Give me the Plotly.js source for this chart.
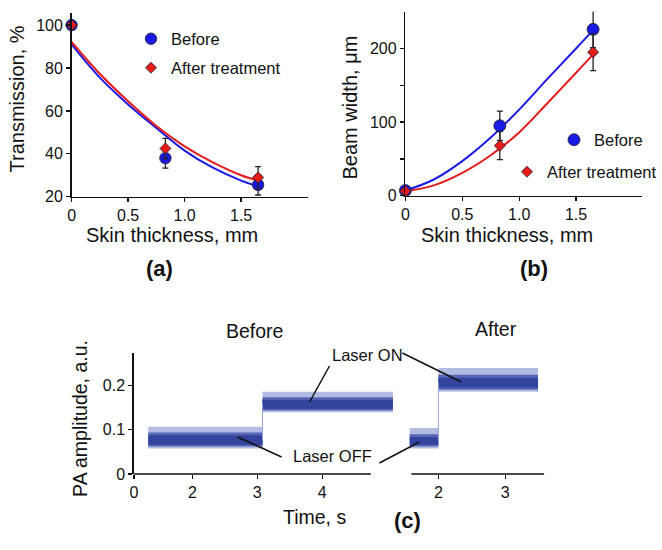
<!DOCTYPE html>
<html>
<head>
<meta charset="utf-8">
<script src="https://cdn.plot.ly/plotly-3.0.1.min.js"></script>
<style>html,body{margin:0;padding:0;background:#fff;}#chart{width:662px;height:550px;}</style>
</head>
<body>
<div id="chart"></div>
<script>
// ---------- Panel (a): transmission ----------
const thickness = [0, 0.83, 1.65];
const transBefore = [100, 38, 25.5];
const transBeforeErr = [0, 4.7, 4.7];
const transAfter = [100, 42.5, 29];
const transAfterErr = [0, 4.7, 5];
const fitX = [0, 0.25, 0.5, 0.75, 1.0, 1.25, 1.5, 1.65];
const transFitBefore = [91, 75.5, 63, 52, 41.5, 33.5, 27.5, 24.8];
const transFitAfter = [92.2, 77.3, 64.5, 53, 43.5, 36, 30, 27.5];

// ---------- Panel (b): beam width ----------
const beamBefore = [7, 95, 226];
const beamBeforeErr = [0, 20, 25];
const beamAfter = [6, 68, 195];
const beamAfterErr = [0, 19, 25];
const beamFitBefore = [7, 22, 47, 79, 117, 159, 200, 225];
const beamFitAfter = [6, 14, 31, 55, 86, 126, 167, 192];

// ---------- Panel (c): PA signal (start, laser switch, end) ----------
const paBeforeTime = [1.32, 3.08, 5.09];
const paBeforeOffCore = [0.066, 0.088];
const paBeforeOffBand = [0.062, 0.094];
const paBeforeOffSpike = [0.058, 0.107];
const paBeforeOnCore = [0.148, 0.168];
const paBeforeOnBand = [0.144, 0.174];
const paBeforeOnSpike = [0.140, 0.186];
const paAfterTime = [1.57, 2.0, 3.49];
const paAfterOffCore = [0.066, 0.084];
const paAfterOffBand = [0.062, 0.090];
const paAfterOffSpike = [0.058, 0.104];
const paAfterOnCore = [0.196, 0.218];
const paAfterOnBand = [0.191, 0.225];
const paAfterOnSpike = [0.186, 0.240];

const tickA_x = [0, 0.5, 1.0, 1.5];
const tickA_xText = ['0', '0.5', '1.0', '1.5'];
const tickA_y = [20, 40, 60, 80, 100];
const tickB_y = [0, 50, 100, 150, 200];
const tickB_yText = ['0', '', '100', '', '200'];
const tickC_x = [1.1, 2, 3, 4];
const tickC_xText = ['0', '2', '3', '4'];
const tickC2_x = [2, 3];
const tickC_y = [0, 0.1, 0.2];
const tickC_yText = ['0', '0.1', '0.2'];

const FONT = '"Liberation Sans", Arial, sans-serif';
const BLUE = '#1a1ae6';
const RED = '#e61a1a';
const CORE = '#33449e';
const MIDB = '#5766b4';
const SPIKE = '#b3bbe2';

const W = 662, H = 550;
const px = x => x / W;
const py = y => 1 - y / H;

function band(t0, t1, lohi, color, xa, ya) {
  return {
    x: [t0, t1, t1, t0, t0], y: [lohi[0], lohi[0], lohi[1], lohi[1], lohi[0]],
    xaxis: xa, yaxis: ya, mode: 'lines', fill: 'toself', fillcolor: color,
    line: {width: 0, color: color}, hoverinfo: 'skip', showlegend: false
  };
}
function mid(a) { return (a[0] + a[1]) / 2; }
function level(t0, t1, spike, bandv, core, xa, ya) {
  return [band(t0, t1, spike, SPIKE, xa, ya), band(t0, t1, bandv, MIDB, xa, ya), band(t0, t1, core, CORE, xa, ya)];
}

const errStyle = (arr) => ({type: 'data', array: arr, visible: true, color: '#222', thickness: 1.3, width: 3});

const traces = [
  // (a) fits
  {x: fitX, y: transFitBefore, xaxis: 'x', yaxis: 'y', mode: 'lines', line: {color: BLUE, width: 2, shape: 'spline'}, showlegend: false},
  {x: fitX, y: transFitAfter, xaxis: 'x', yaxis: 'y', mode: 'lines', line: {color: RED, width: 2, shape: 'spline'}, showlegend: false},
  // (a) data
  {x: thickness, y: transBefore, error_y: errStyle(transBeforeErr), xaxis: 'x', yaxis: 'y', mode: 'markers', name: 'Before',
   marker: {symbol: 'circle', size: 11.5, color: BLUE, line: {color: '#222', width: 0.8}}, cliponaxis: false, legend: 'legend'},
  {x: thickness, y: transAfter, error_y: errStyle(transAfterErr), xaxis: 'x', yaxis: 'y', mode: 'markers', name: 'After treatment',
   marker: {symbol: 'diamond', size: 8.5, color: RED, line: {color: '#222', width: 0.8}}, cliponaxis: false, legend: 'legend2'},
  // (b) fits
  {x: fitX, y: beamFitBefore, xaxis: 'x2', yaxis: 'y2', mode: 'lines', line: {color: BLUE, width: 2, shape: 'spline'}, showlegend: false},
  {x: fitX, y: beamFitAfter, xaxis: 'x2', yaxis: 'y2', mode: 'lines', line: {color: RED, width: 2, shape: 'spline'}, showlegend: false},
  // (b) data
  {x: thickness, y: beamBefore, error_y: errStyle(beamBeforeErr), xaxis: 'x2', yaxis: 'y2', mode: 'markers', name: 'Before',
   marker: {symbol: 'circle', size: 12, color: BLUE, line: {color: '#222', width: 0.8}}, cliponaxis: false, legend: 'legend3'},
  {x: thickness, y: beamAfter, error_y: errStyle(beamAfterErr), xaxis: 'x2', yaxis: 'y2', mode: 'markers', name: 'After treatment',
   marker: {symbol: 'diamond', size: 8.5, color: RED, line: {color: '#222', width: 0.8}}, cliponaxis: false, legend: 'legend4'},
  // (c) before
  ...level(paBeforeTime[0], paBeforeTime[1], paBeforeOffSpike, paBeforeOffBand, paBeforeOffCore, 'x3', 'y3'),
  ...level(paBeforeTime[1], paBeforeTime[2], paBeforeOnSpike, paBeforeOnBand, paBeforeOnCore, 'x3', 'y3'),
  {x: [paBeforeTime[1], paBeforeTime[1]], y: [mid(paBeforeOffBand), mid(paBeforeOnBand)], xaxis: 'x3', yaxis: 'y3', mode: 'lines',
   line: {color: '#9aa3dc', width: 1}, showlegend: false, hoverinfo: 'skip'},
  // (c) after
  ...level(paAfterTime[0], paAfterTime[1], paAfterOffSpike, paAfterOffBand, paAfterOffCore, 'x4', 'y4'),
  ...level(paAfterTime[1], paAfterTime[2], paAfterOnSpike, paAfterOnBand, paAfterOnCore, 'x4', 'y4'),
  {x: [paAfterTime[1], paAfterTime[1]], y: [mid(paAfterOffBand), mid(paAfterOnBand)], xaxis: 'x4', yaxis: 'y4', mode: 'lines',
   line: {color: '#9aa3dc', width: 1}, showlegend: false, hoverinfo: 'skip'}
];

const tickFont = {family: FONT, size: 16, color: '#111'};
const baseAxis = {showgrid: false, zeroline: false, showline: true, linecolor: '#111', linewidth: 1.5,
  ticks: 'outside', ticklen: 4, tickwidth: 1.3, tickcolor: '#111', tickfont: tickFont, automargin: false, fixedrange: true};

const legendBase = {font: {family: FONT, size: 16.5, color: '#111'}, bgcolor: 'rgba(0,0,0,0)', borderwidth: 0,
  xanchor: 'left', yanchor: 'middle', tracegroupgap: 0};

const textAnn = (text, x, y, size, opts) => Object.assign({text: text, x: px(x), y: py(y), xref: 'paper', yref: 'paper',
  showarrow: false, xanchor: 'center', yanchor: 'middle', font: {family: FONT, size: size, color: '#111'}}, opts || {});

const lineShape = (x0, y0, x1, y1) => ({type: 'line', xref: 'paper', yref: 'paper', x0: px(x0), y0: py(y0), x1: px(x1), y1: py(y1),
  line: {color: '#111', width: 1.5}});

const layout = {
  width: W, height: H, margin: {l: 0, r: 0, t: 0, b: 0},
  paper_bgcolor: '#fff', plot_bgcolor: 'rgba(0,0,0,0)',
  font: {family: FONT, color: '#111'},
  xaxis: Object.assign({}, baseAxis, {domain: [px(71.7), px(308.3)], anchor: 'y', range: [0, 2.09], tickvals: tickA_x, ticktext: tickA_xText}),
  yaxis: Object.assign({}, baseAxis, {domain: [py(196.7), py(13.3)], anchor: 'x', range: [20, 105.5], tickvals: tickA_y}),
  xaxis2: Object.assign({}, baseAxis, {domain: [px(406), px(643)], anchor: 'y2', range: [0, 2.08], tickvals: tickA_x, ticktext: tickA_xText}),
  yaxis2: Object.assign({}, baseAxis, {domain: [py(195.7), py(11.7)], anchor: 'x2', range: [0, 250], tickvals: tickB_y, ticktext: tickB_yText}),
  xaxis3: Object.assign({}, baseAxis, {domain: [px(134), px(400)], anchor: 'y3', range: [1.097, 1.097 + 266 / 65], showline: false,
    tickvals: tickC_x, ticktext: tickC_xText}),
  yaxis3: Object.assign({}, baseAxis, {domain: [py(474), py(353)], anchor: 'x3', range: [0, 0.274], tickvals: tickC_y, ticktext: tickC_yText}),
  xaxis4: Object.assign({}, baseAxis, {domain: [px(410), px(568)], anchor: 'y4', range: [1.567, 1.567 + 158 / 67], showline: false,
    tickvals: tickC2_x}),
  yaxis4: Object.assign({}, baseAxis, {domain: [py(474), py(353)], anchor: 'x4', range: [0, 0.274], visible: false}),
  legend: Object.assign({}, legendBase, {x: px(131), y: py(39)}),
  legend2: Object.assign({}, legendBase, {x: px(131), y: py(68)}),
  legend3: Object.assign({}, legendBase, {x: px(554), y: py(140)}),
  legend4: Object.assign({}, legendBase, {x: px(508), y: py(172)}),
  shapes: [
    // x-axis lines of panel (c)
    {type: 'line', xref: 'x3', yref: 'paper', x0: 1.097, x1: 4.75, y0: py(474), y1: py(474), line: {color: '#111', width: 1.5}},
    {type: 'line', xref: 'x4', yref: 'paper', x0: 1.597, x1: 3.58, y0: py(474), y1: py(474), line: {color: '#111', width: 1.5}},
    // annotation pointer lines
    lineShape(330, 366, 310, 402),
    lineShape(403, 353, 462, 382),
    lineShape(282, 457, 238, 437),
    lineShape(380, 463, 420, 442)
  ],
  annotations: [
    textAnn('Transmission, %', 17.5, 99, 20, {textangle: -90}),
    textAnn('Skin thickness, mm', 172.5, 235, 20),
    textAnn('<b>(a)</b>', 160, 268, 22),
    textAnn('Beam width, μm', 351, 107, 20, {textangle: -90}),
    textAnn('Skin thickness, mm', 507.5, 235, 20),
    textAnn('<b>(b)</b>', 535, 268, 22),
    textAnn('PA amplitude, a.u.', 80, 418, 19.5, {textangle: -90}),
    textAnn('Time, s', 315, 517, 19.5),
    textAnn('<b>(c)</b>', 408, 520, 22),
    textAnn('Before', 255, 331, 19.5),
    textAnn('After', 497, 329, 19.5),
    textAnn('Laser ON', 368, 355, 16.5),
    textAnn('Laser OFF', 333, 456, 16.5)
  ]
};

Plotly.newPlot('chart', traces, layout, {staticPlot: true, displayModeBar: false});
</script>
</body>
</html>
